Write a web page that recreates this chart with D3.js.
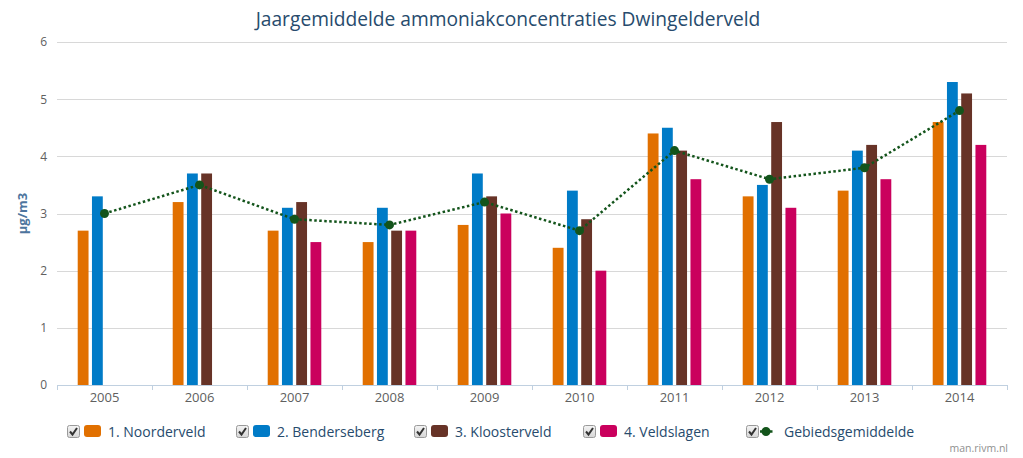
<!DOCTYPE html>
<html>
<head>
<meta charset="utf-8">
<script src="https://cdn.jsdelivr.net/npm/d3@7"></script>
<style>
  html, body { margin: 0; padding: 0; background: #fff; }
  svg { display: block; }
  text { font-family: "Open Sans", "Noto Sans", sans-serif; }
</style>
</head>
<body>
<svg id="chart" width="1023" height="458"></svg>
<script>
const years = ["2005","2006","2007","2008","2009","2010","2011","2012","2013","2014"];
const seriesNames = ["1. Noorderveld","2. Benderseberg","3. Kloosterveld","4. Veldslagen"];
const seriesColors = ["#e17000","#007bc7","#673327","#ca005d"];
const noorderveld  = [2.7, 3.2, 2.7, 2.5, 2.8, 2.4, 4.4, 3.3, 3.4, 4.6];
const benderseberg = [3.3, 3.7, 3.1, 3.1, 3.7, 3.4, 4.5, 3.5, 4.1, 5.3];
const kloosterveld = [null, 3.7, 3.2, 2.7, 3.3, 2.9, 4.1, 4.6, 4.2, 5.1];
const veldslagen   = [null, null, 2.5, 2.7, 3.0, 2.0, 3.6, 3.1, 3.6, 4.2];
const gebiedsgemiddelde = [3.0, 3.5, 2.9, 2.8, 3.2, 2.7, 4.1, 3.6, 3.8, 4.8];
const avgName = "Gebiedsgemiddelde";
const avgColor = "#13541b";
const yTicks = [0,1,2,3,4,5,6];
const titleText = "Jaargemiddelde ammoniakconcentraties Dwingelderveld";
const yLabel = "µg/m3";
const credit = "man.rivm.nl";

const seriesValues = [noorderveld, benderseberg, kloosterveld, veldslagen];

const svg = d3.select("#chart");
const plot = {left: 57, right: 1007, top: 42, bottom: 385};

const x0 = d3.scaleBand().domain(years).range([plot.left, plot.right]).padding(0);
const bw = x0.bandwidth();
const x1 = d3.scaleBand().domain(seriesNames).range([0.2*bw, 0.8*bw]);
const barW = x1.bandwidth() * 0.76;
const y = d3.scaleLinear().domain([0, 6]).range([plot.bottom, plot.top]);

// Title
svg.append("text")
  .attr("x", 508).attr("y", 26)
  .attr("text-anchor", "middle")
  .attr("font-size", 19.2)
  .attr("fill", "#274b6d")
  .text(titleText);

// Grid + y axis labels
const yAxis = d3.axisLeft(y).tickValues(yTicks).tickFormat(d3.format("d")).tickSize(0).tickPadding(10);
const gy = svg.append("g").attr("transform", `translate(${plot.left},0)`).call(yAxis);
gy.select(".domain").remove();
gy.selectAll("text").attr("font-size", 12).attr("fill", "#606060")
  .attr("font-family", "\"Open Sans\", sans-serif");

svg.append("g").selectAll("line")
  .data(yTicks.filter(t => t > 0))
  .join("line")
  .attr("x1", plot.left).attr("x2", plot.right)
  .attr("y1", d => Math.round(y(d)) + 0.5).attr("y2", d => Math.round(y(d)) + 0.5)
  .attr("stroke", "#d8d8d8").attr("stroke-width", 1);

// y label
svg.append("text")
  .attr("transform", `translate(27,${(plot.top+plot.bottom)/2}) rotate(-90)`)
  .attr("text-anchor", "middle")
  .attr("font-size", 13).attr("font-weight", "bold")
  .attr("fill", "#4d759e")
  .text(yLabel);

// Bars
const gBars = svg.append("g");
years.forEach((yr, i) => {
  seriesValues.forEach((vals, s) => {
    const v = vals[i];
    if (v == null) return;
    gBars.append("rect")
      .attr("x", x0(yr) + x1(seriesNames[s]) + (x1.bandwidth() - barW)/2)
      .attr("y", y(v))
      .attr("width", barW)
      .attr("height", y(0) - y(v))
      .attr("fill", seriesColors[s]);
  });
});

// X axis
const xAxis = d3.axisBottom(x0).tickSize(0).tickPadding(8);
const gx = svg.append("g").attr("transform", `translate(0,${plot.bottom})`).call(xAxis);
gx.select(".domain").attr("stroke", "#C0D0E0").attr("d", `M${plot.left},0.5H${plot.right}`);
gx.selectAll("text").attr("font-size", 13).attr("fill", "#606060")
  .attr("font-family", "\"Open Sans\", sans-serif");
const boundaries = years.map(d => x0(d)).concat([plot.right]);
svg.append("g").selectAll("line").data(boundaries).join("line")
  .attr("x1", d => Math.round(d) + 0.5).attr("x2", d => Math.round(d) + 0.5)
  .attr("y1", plot.bottom).attr("y2", plot.bottom + 5)
  .attr("stroke", "#C0D0E0");

// Average line
const line = d3.line()
  .x((d, i) => x0(years[i]) + bw/2)
  .y(d => y(d));
svg.append("path")
  .datum(gebiedsgemiddelde)
  .attr("d", line)
  .attr("fill", "none")
  .attr("stroke", avgColor)
  .attr("stroke-width", 2.5)
  .attr("stroke-dasharray", "2.5,2.5");
svg.append("g").selectAll("circle").data(gebiedsgemiddelde).join("circle")
  .attr("cx", (d, i) => x0(years[i]) + bw/2)
  .attr("cy", d => y(d))
  .attr("r", 4.5)
  .attr("fill", avgColor);

// Legend
const legend = svg.append("g");
const legendItems = seriesNames.map((n, i) => ({name: n, color: seriesColors[i], type: "bar"}))
  .concat([{name: avgName, color: avgColor, type: "line"}]);
const legendX = [67, 236, 414, 583, 746];
const ly = 425;
const defs = svg.append("defs");
const grad = defs.append("linearGradient").attr("id", "cbgrad").attr("x1", 0).attr("y1", 0).attr("x2", 0).attr("y2", 1);
grad.append("stop").attr("offset", "0%").attr("stop-color", "#f4f4f4");
grad.append("stop").attr("offset", "100%").attr("stop-color", "#d6d6d6");
legendItems.forEach((it, i) => {
  const g = legend.append("g").attr("transform", `translate(${legendX[i]},${ly})`);
  g.append("rect").attr("x", 0.5).attr("y", 0.5).attr("width", 12).attr("height", 12).attr("rx", 2)
    .attr("fill", "url(#cbgrad)").attr("stroke", "#9a9a9a");
  g.append("path").attr("d", "M3,6.5 L5.5,9.5 L10,3").attr("fill", "none")
    .attr("stroke", "#333").attr("stroke-width", 2);
  let tx;
  if (it.type === "bar") {
    g.append("rect").attr("x", 17).attr("y", 0).attr("width", 17).attr("height", 12).attr("rx", 3)
      .attr("fill", it.color);
    tx = 41;
  } else {
    g.append("line").attr("x1", 14).attr("x2", 27).attr("y1", 6.5).attr("y2", 6.5)
      .attr("stroke", it.color).attr("stroke-width", 2.5).attr("stroke-dasharray", "2.5,2.5");
    g.append("circle").attr("cx", 20).attr("cy", 6.5).attr("r", 4.5).attr("fill", it.color);
    tx = 38;
  }
  g.append("text").attr("x", tx).attr("y", 11.5)
    .attr("font-size", 14).attr("fill", "#274b6d").text(it.name);
});

// Credit
svg.append("text")
  .attr("x", 1008).attr("y", 452)
  .attr("text-anchor", "end")
  .attr("font-size", 10.5).attr("fill", "#909090")
  .text(credit);
</script>
</body>
</html>
